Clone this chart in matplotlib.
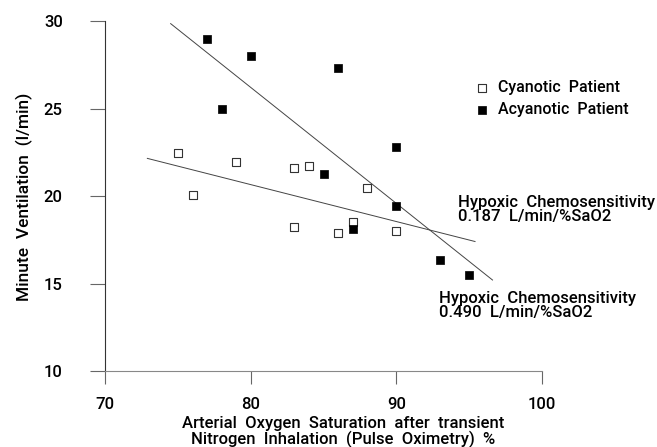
import matplotlib.pyplot as plt

# open squares
cyan_x = [75, 76, 79, 83, 84, 88, 83, 86, 87, 90]
cyan_y = [22.45, 20.05, 21.95, 21.6, 21.7, 20.45, 18.25, 17.9, 18.5, 18.0]

# filled squares
acyan_x = [77, 80, 86, 78, 85, 90, 87, 90, 93, 95]
acyan_y = [29.0, 28.0, 27.3, 25.0, 21.25, 22.8, 18.1, 19.45, 16.35, 15.5]

# regression line end points
cyan_fit_x = [72.9, 95.4]
cyan_fit_y = [22.15, 17.4]
acyan_fit_x = [74.5, 96.6]
acyan_fit_y = [29.85, 15.2]

xticks = [70, 80, 90, 100]
yticks = [10, 15, 20, 25, 30]

plt.rcParams["font.family"] = ["Roboto", "Liberation Sans", "DejaVu Sans"]
plt.rcParams["font.weight"] = 500

fig = plt.figure(figsize=(6.57, 4.47), dpi=100)
ax = fig.add_axes([0.16, 0.17, 0.665, 0.783])

ax.plot(cyan_fit_x, cyan_fit_y, color="#444444", lw=0.7)
ax.plot(acyan_fit_x, acyan_fit_y, color="#444444", lw=0.7)
ax.scatter(cyan_x, cyan_y, marker="s", s=26, facecolor="white",
           edgecolor="#333333", linewidths=0.8, zorder=3, label="Cyanotic  Patient")
ax.scatter(acyan_x, acyan_y, marker="s", s=30, facecolor="black",
           edgecolor="black", linewidths=0.5, zorder=3, label="Acyanotic  Patient")

ax.set_xlim(70, 100)
ax.set_ylim(10, 30)
ax.set_xticks(xticks)
ax.set_yticks(yticks)
for s in ["top", "right"]:
    ax.spines[s].set_visible(False)
ax.spines["left"].set_color("#333333")
ax.spines["bottom"].set_color("#888888")
ax.spines["left"].set_linewidth(0.8)
ax.spines["bottom"].set_linewidth(0.8)
ax.tick_params(axis="y", direction="out", length=10.5, width=0.8, color="#666666",
               pad=20, labelsize=12)
ax.tick_params(axis="x", direction="out", length=9, width=0.8, color="#666666",
               pad=10, labelsize=12)

fig.text(0.037, 0.56, "Minute  Ventilation  (l/min)", rotation=90,
         ha="center", va="center", fontsize=12.5)
fig.text(0.522, 0.034, "Arterial  Oxygen  Saturation  after  transient\n"
         "Nitrogen  Inhalation  (Pulse  Oximetry)  %",
         ha="center", va="center", fontsize=12, linespacing=0.95)

ax.legend(loc="upper left", bbox_to_anchor=(0.83, 0.849), frameon=False,
          fontsize=11.5, handlelength=1.0, handletextpad=0.5, borderaxespad=0,
          labelspacing=0.45)

ax.text(94.2, 18.4, "Hypoxic  Chemosensitivity\n0.187  L/min/%SaO2",
        fontsize=12, va="bottom", ha="left", linespacing=0.95, clip_on=False)
ax.text(92.9, 12.9, "Hypoxic  Chemosensitivity\n0.490  L/min/%SaO2",
        fontsize=12, va="bottom", ha="left", linespacing=0.95, clip_on=False)

fig.savefig("out.png", dpi=100)
